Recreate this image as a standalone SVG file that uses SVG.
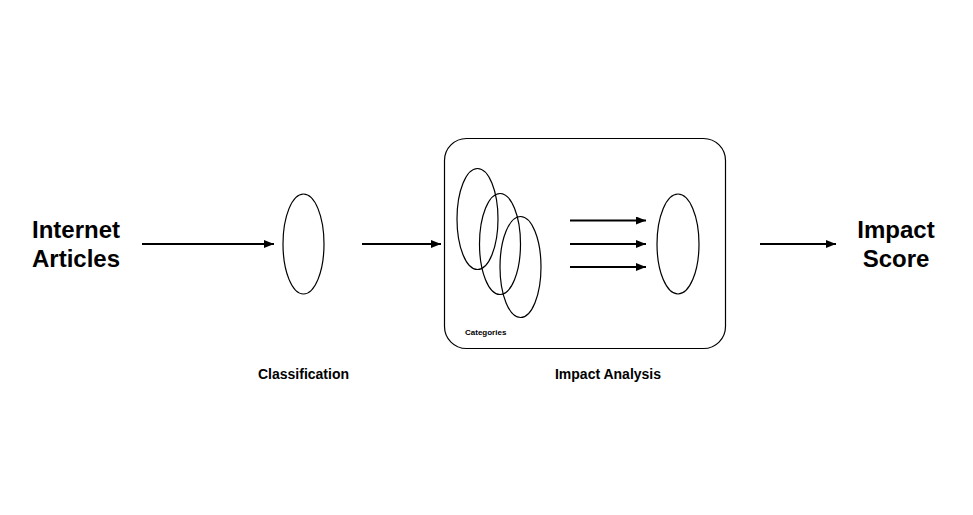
<svg xmlns="http://www.w3.org/2000/svg" width="973" height="515" viewBox="0 0 973 515">
<style>
.big{font-family:"Liberation Sans",Arial,sans-serif;font-weight:bold;font-size:24px;fill:#000;text-anchor:middle}
.lbl{font-family:"Liberation Sans",Arial,sans-serif;font-weight:bold;font-size:14px;fill:#000;text-anchor:middle}
.sm{font-family:"Liberation Sans",Arial,sans-serif;font-weight:bold;font-size:8px;fill:#000}
.shape{fill:none;stroke:#000;stroke-width:1.2}
.conn{stroke:#000;stroke-width:2;fill:none;marker-end:url(#ah)}
</style>
<defs>
<marker id="ah" markerWidth="10" markerHeight="8" refX="10" refY="4" orient="auto" markerUnits="userSpaceOnUse">
<path d="M0,0 L10,4 L0,8 Z" fill="#000"/>
</marker>
</defs>
<rect width="973" height="515" fill="#fff"/>
<g id="input">
<text class="big" x="76" y="238">Internet</text>
<text class="big" x="76" y="267">Articles</text>
</g>
<g id="classification">
<ellipse class="shape" cx="303.5" cy="244" rx="20.5" ry="50"/>
<text class="lbl" x="303.5" y="379">Classification</text>
</g>
<g id="impact-analysis">
<rect class="shape" x="444.5" y="138.5" width="281" height="210" rx="22" ry="22"/>
<ellipse class="shape" cx="477.5" cy="219" rx="20.5" ry="50.5"/>
<ellipse class="shape" cx="500" cy="244" rx="20.5" ry="50.5"/>
<ellipse class="shape" cx="520.5" cy="267" rx="20.5" ry="50.5"/>
<ellipse class="shape" cx="678" cy="244" rx="21" ry="50"/>
<text class="sm" x="465" y="335">Categories</text>
<text class="lbl" x="608" y="379">Impact Analysis</text>
</g>
<g id="output">
<text class="big" x="896" y="238">Impact</text>
<text class="big" x="896" y="267">Score</text>
</g>
<g id="connectors">
<line class="conn" x1="142" y1="244" x2="274" y2="244"/>
<line class="conn" x1="362" y1="244" x2="441" y2="244"/>
<line class="conn" x1="570" y1="220.5" x2="646" y2="220.5"/>
<line class="conn" x1="570" y1="244" x2="646" y2="244"/>
<line class="conn" x1="570" y1="267" x2="646" y2="267"/>
<line class="conn" x1="760" y1="244" x2="836" y2="244"/>
</g>
</svg>
